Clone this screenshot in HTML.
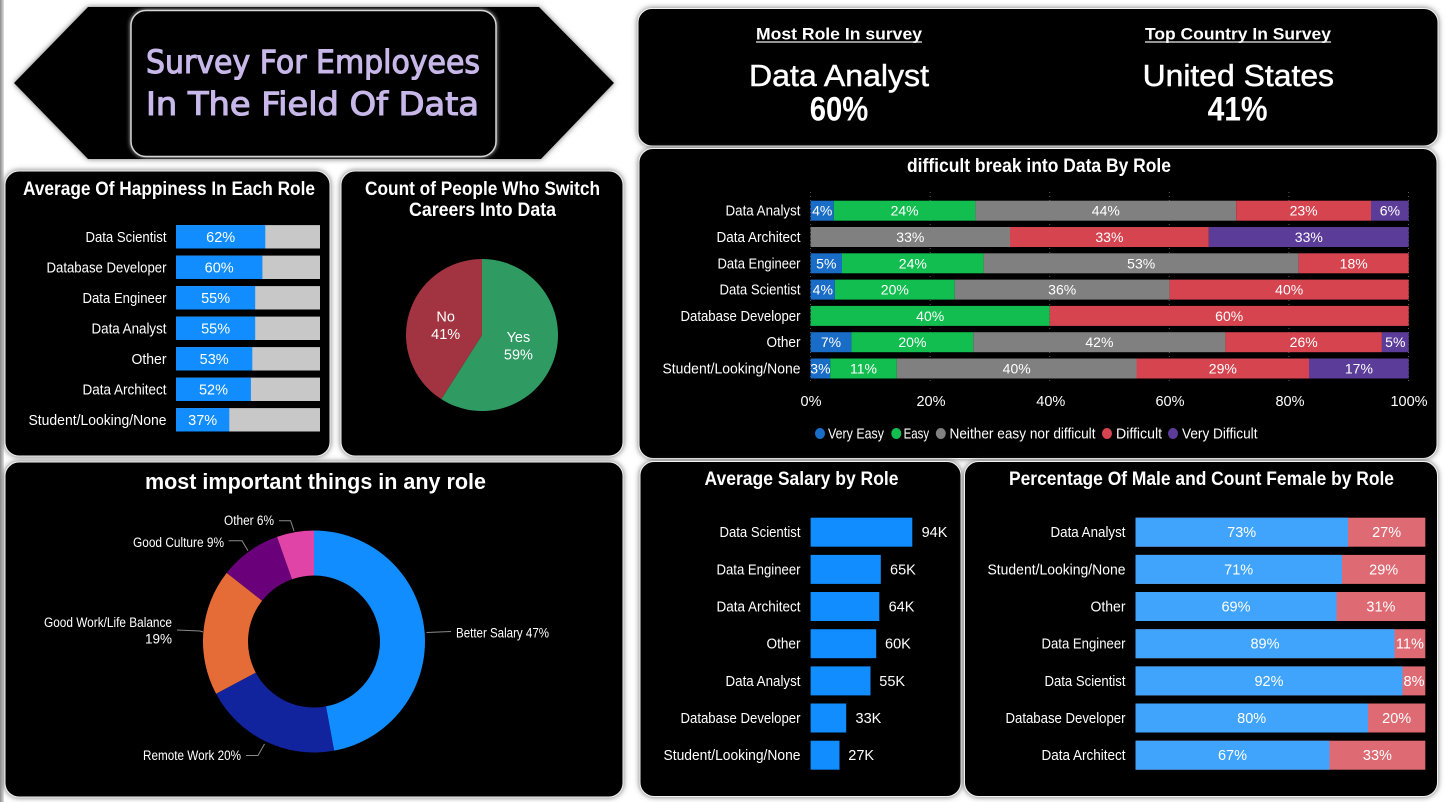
<!DOCTYPE html>
<html>
<head>
<meta charset="utf-8">
<style>
html,body{margin:0;padding:0;background:#ffffff;}
svg{display:block;}
.t{font-family:"Liberation Sans Narrow","Liberation Sans",sans-serif;fill:#ffffff;}
.l{font-size:14.5px;}
.b{font-weight:bold;}
</style>
</head>
<body>
<svg width="1446" height="802" viewBox="0 0 1446 802" xmlns="http://www.w3.org/2000/svg">
<defs>
  <filter id="sh" x="-10%" y="-10%" width="120%" height="120%">
    <feDropShadow dx="0" dy="0" stdDeviation="3" flood-color="#5e5e5e" flood-opacity="0.9"/>
  </filter>
  <filter id="glow" x="-10%" y="-10%" width="120%" height="120%">
    <feDropShadow dx="0" dy="0" stdDeviation="2" flood-color="#bbbbbb" flood-opacity="1"/>
  </filter>
  <linearGradient id="lg" x1="0" y1="0" x2="1" y2="0">
    <stop offset="0" stop-color="#8a8a8a"/>
    <stop offset="1" stop-color="#e0e0e0"/>
  </linearGradient>
</defs>

<rect x="0" y="0" width="1446" height="802" fill="#ffffff"/>
<rect x="0" y="0" width="4" height="802" fill="url(#lg)"/>

<!-- Title hexagon -->
<polygon points="14,83 88,7 539,7 614,83 541,159 88,159" fill="#000" filter="url(#sh)"/>
<rect x="131" y="10.5" width="365" height="146" rx="15" fill="#000" stroke="#d6d6d6" stroke-width="1.5" filter="url(#glow)"/>
<text x="313" y="73" text-anchor="middle" font-family="'Comic Sans MS','DejaVu Sans',sans-serif" font-size="32" fill="#c8b8ea" stroke="#c8b8ea" stroke-width="1.1" textLength="334" lengthAdjust="spacingAndGlyphs">Survey For Employees</text>
<text x="312.5" y="115" text-anchor="middle" font-family="'Comic Sans MS','DejaVu Sans',sans-serif" font-size="32" fill="#c8b8ea" stroke="#c8b8ea" stroke-width="1.1" textLength="333" lengthAdjust="spacingAndGlyphs">In The Field Of Data</text>

<!-- Panels -->
<rect x="638" y="8.5" width="800" height="137.5" rx="14" fill="#000" stroke="#f2f2f2" stroke-width="1" filter="url(#sh)"/>
<rect x="639" y="148.5" width="798" height="310" rx="14" fill="#000" stroke="#f2f2f2" stroke-width="1" filter="url(#sh)"/>
<rect x="5" y="171" width="325" height="285" rx="14" fill="#000" stroke="#f2f2f2" stroke-width="1" filter="url(#sh)"/>
<rect x="341" y="171" width="282" height="285" rx="14" fill="#000" stroke="#f2f2f2" stroke-width="1" filter="url(#sh)"/>
<rect x="5" y="462" width="618" height="335" rx="14" fill="#000" stroke="#f2f2f2" stroke-width="1" filter="url(#sh)"/>
<rect x="640" y="461.5" width="321" height="335" rx="14" fill="#000" stroke="#f2f2f2" stroke-width="1" filter="url(#sh)"/>
<rect x="964.5" y="461.5" width="473" height="335" rx="14" fill="#000" stroke="#f2f2f2" stroke-width="1" filter="url(#sh)"/>

<!-- Top card -->
<text class="t b" x="839" y="39.5" font-size="16.5" text-anchor="middle" fill="#eeeeee" textLength="166" lengthAdjust="spacingAndGlyphs">Most Role In survey</text>
<line x1="756" y1="42" x2="922" y2="42" stroke="#eeeeee" stroke-width="1.2"/>
<text class="t b" x="1238" y="39.5" font-size="16.5" text-anchor="middle" fill="#eeeeee" textLength="186" lengthAdjust="spacingAndGlyphs">Top Country In Survey</text>
<line x1="1145" y1="42" x2="1331" y2="42" stroke="#eeeeee" stroke-width="1.2"/>
<text class="t" x="839" y="86" font-size="31" text-anchor="middle" stroke="#fff" stroke-width="0.5" textLength="180" lengthAdjust="spacingAndGlyphs">Data Analyst</text>
<text class="t b" x="839" y="120.5" font-size="34" text-anchor="middle" textLength="58.5" lengthAdjust="spacingAndGlyphs">60%</text>
<text class="t" x="1238.3" y="86" font-size="31" text-anchor="middle" stroke="#fff" stroke-width="0.5" textLength="191.4" lengthAdjust="spacingAndGlyphs">United States</text>
<text class="t b" x="1237.6" y="120.5" font-size="34" text-anchor="middle" textLength="60" lengthAdjust="spacingAndGlyphs">41%</text>

<!-- Happiness panel -->
<text class="t b" x="169" y="195" font-size="19" text-anchor="middle" textLength="292" lengthAdjust="spacingAndGlyphs">Average Of Happiness In Each Role</text>
<g>
  <rect x="176" y="225.1" width="144" height="23.4" fill="#c8c8c8"/><rect x="176" y="225.1" width="89.3" height="23.4" fill="#118dff"/>
  <rect x="176" y="255.6" width="144" height="23.4" fill="#c8c8c8"/><rect x="176" y="255.6" width="86.4" height="23.4" fill="#118dff"/>
  <rect x="176" y="286.1" width="144" height="23.4" fill="#c8c8c8"/><rect x="176" y="286.1" width="79.2" height="23.4" fill="#118dff"/>
  <rect x="176" y="316.6" width="144" height="23.4" fill="#c8c8c8"/><rect x="176" y="316.6" width="79.2" height="23.4" fill="#118dff"/>
  <rect x="176" y="347.1" width="144" height="23.4" fill="#c8c8c8"/><rect x="176" y="347.1" width="76.3" height="23.4" fill="#118dff"/>
  <rect x="176" y="377.6" width="144" height="23.4" fill="#c8c8c8"/><rect x="176" y="377.6" width="74.9" height="23.4" fill="#118dff"/>
  <rect x="176" y="408.1" width="144" height="23.4" fill="#c8c8c8"/><rect x="176" y="408.1" width="53.3" height="23.4" fill="#118dff"/>
</g>
<g class="t l" text-anchor="end">
  <text x="166.5" y="241.8" textLength="81" lengthAdjust="spacingAndGlyphs">Data Scientist</text>
  <text x="166.5" y="272.3" textLength="120" lengthAdjust="spacingAndGlyphs">Database Developer</text>
  <text x="166.5" y="302.8" textLength="84" lengthAdjust="spacingAndGlyphs">Data Engineer</text>
  <text x="166.5" y="333.3" textLength="75" lengthAdjust="spacingAndGlyphs">Data Analyst</text>
  <text x="166.5" y="363.8" textLength="35" lengthAdjust="spacingAndGlyphs">Other</text>
  <text x="166.5" y="394.3" textLength="84" lengthAdjust="spacingAndGlyphs">Data Architect</text>
  <text x="166.5" y="424.8" textLength="138" lengthAdjust="spacingAndGlyphs">Student/Looking/None</text>
</g>
<g class="t l" text-anchor="middle">
  <text x="220.7" y="241.8">62%</text>
  <text x="219.2" y="272.3">60%</text>
  <text x="215.6" y="302.8">55%</text>
  <text x="215.6" y="333.3">55%</text>
  <text x="214.2" y="363.8">53%</text>
  <text x="213.5" y="394.3">52%</text>
  <text x="202.7" y="424.8">37%</text>
</g>

<!-- Pie panel -->
<text class="t b" x="482.5" y="195" font-size="19" text-anchor="middle" textLength="235" lengthAdjust="spacingAndGlyphs">Count of People Who Switch</text>
<text class="t b" x="482.5" y="216" font-size="19" text-anchor="middle" textLength="147" lengthAdjust="spacingAndGlyphs">Careers Into Data</text>
<path d="M482,335 L482,259 A76,76 0 1 1 441.28,399.17 Z" fill="#2f9a62"/>
<path d="M482,335 L441.28,399.17 A76,76 0 0 1 482,259 Z" fill="#a13440"/>
<g class="t l" text-anchor="middle">
  <text x="445.7" y="321.5">No</text>
  <text x="445.7" y="339">41%</text>
  <text x="518.4" y="342">Yes</text>
  <text x="518.4" y="359.5">59%</text>
</g>

<!-- Difficulty panel -->
<text class="t b" x="1039" y="172" font-size="19" text-anchor="middle" textLength="264" lengthAdjust="spacingAndGlyphs">difficult break into Data By Role</text>
<g stroke="#5a5a5a" stroke-width="1" stroke-dasharray="1,3">
  <line x1="810.6" y1="192" x2="810.6" y2="384"/>
  <line x1="930.2" y1="192" x2="930.2" y2="384"/>
  <line x1="1049.7" y1="192" x2="1049.7" y2="384"/>
  <line x1="1169.3" y1="192" x2="1169.3" y2="384"/>
  <line x1="1288.9" y1="192" x2="1288.9" y2="384"/>
  <line x1="1408.5" y1="192" x2="1408.5" y2="384"/>
</g>
<g>
  <rect x="810.6" y="200.7" width="23.2" height="20" fill="#1a6dc6"/>
  <rect x="833.8" y="200.7" width="141.6" height="20" fill="#12be50"/>
  <rect x="975.4" y="200.7" width="260.8" height="20" fill="#808080"/>
  <rect x="1236.2" y="200.7" width="134.8" height="20" fill="#d6444f"/>
  <rect x="1371" y="200.7" width="37.7" height="20" fill="#5b3c98"/>

  <rect x="810.6" y="227" width="199.4" height="20" fill="#808080"/>
  <rect x="1010" y="227" width="198.8" height="20" fill="#d6444f"/>
  <rect x="1208.8" y="227" width="199.9" height="20" fill="#5b3c98"/>

  <rect x="810.6" y="253.3" width="31.4" height="20" fill="#1a6dc6"/>
  <rect x="842" y="253.3" width="141.6" height="20" fill="#12be50"/>
  <rect x="983.6" y="253.3" width="315.1" height="20" fill="#808080"/>
  <rect x="1298.7" y="253.3" width="110" height="20" fill="#d6444f"/>

  <rect x="810.6" y="279.6" width="24.3" height="20" fill="#1a6dc6"/>
  <rect x="834.9" y="279.6" width="119.8" height="20" fill="#12be50"/>
  <rect x="954.7" y="279.6" width="214.9" height="20" fill="#808080"/>
  <rect x="1169.6" y="279.6" width="239.1" height="20" fill="#d6444f"/>

  <rect x="810.6" y="305.9" width="239.1" height="20" fill="#12be50"/>
  <rect x="1049.7" y="305.9" width="359" height="20" fill="#d6444f"/>

  <rect x="810.6" y="332.2" width="40.8" height="20" fill="#1a6dc6"/>
  <rect x="851.4" y="332.2" width="121.9" height="20" fill="#12be50"/>
  <rect x="973.3" y="332.2" width="252.1" height="20" fill="#808080"/>
  <rect x="1225.4" y="332.2" width="156.5" height="20" fill="#d6444f"/>
  <rect x="1381.9" y="332.2" width="26.8" height="20" fill="#5b3c98"/>

  <rect x="810.6" y="358.5" width="19.6" height="20" fill="#1a6dc6"/>
  <rect x="830.2" y="358.5" width="66.6" height="20" fill="#12be50"/>
  <rect x="896.8" y="358.5" width="239.7" height="20" fill="#808080"/>
  <rect x="1136.5" y="358.5" width="172.5" height="20" fill="#d6444f"/>
  <rect x="1309" y="358.5" width="99.7" height="20" fill="#5b3c98"/>
</g>
<g class="t" font-size="14" text-anchor="middle">
  <text x="822.2" y="215.7">4%</text>
  <text x="904.6" y="215.7">24%</text>
  <text x="1105.8" y="215.7">44%</text>
  <text x="1303.6" y="215.7">23%</text>
  <text x="1389.9" y="215.7">6%</text>

  <text x="910.3" y="242">33%</text>
  <text x="1109.4" y="242">33%</text>
  <text x="1308.8" y="242">33%</text>

  <text x="826.3" y="268.3">5%</text>
  <text x="912.8" y="268.3">24%</text>
  <text x="1141.2" y="268.3">53%</text>
  <text x="1353.7" y="268.3">18%</text>

  <text x="822.8" y="294.6">4%</text>
  <text x="894.8" y="294.6">20%</text>
  <text x="1062.2" y="294.6">36%</text>
  <text x="1289.2" y="294.6">40%</text>

  <text x="930.2" y="320.9">40%</text>
  <text x="1229.2" y="320.9">60%</text>

  <text x="831" y="347.2">7%</text>
  <text x="912.4" y="347.2">20%</text>
  <text x="1099.4" y="347.2">42%</text>
  <text x="1303.7" y="347.2">26%</text>
  <text x="1395.3" y="347.2">5%</text>

  <text x="820.4" y="373.5">3%</text>
  <text x="863.5" y="373.5">11%</text>
  <text x="1016.7" y="373.5">40%</text>
  <text x="1222.8" y="373.5">29%</text>
  <text x="1358.9" y="373.5">17%</text>
</g>
<g class="t l" text-anchor="end">
  <text x="800.5" y="215.7" textLength="75" lengthAdjust="spacingAndGlyphs">Data Analyst</text>
  <text x="800.5" y="242" textLength="84" lengthAdjust="spacingAndGlyphs">Data Architect</text>
  <text x="800.5" y="268.3" textLength="83" lengthAdjust="spacingAndGlyphs">Data Engineer</text>
  <text x="800.5" y="294.6" textLength="81" lengthAdjust="spacingAndGlyphs">Data Scientist</text>
  <text x="800.5" y="320.9" textLength="120" lengthAdjust="spacingAndGlyphs">Database Developer</text>
  <text x="800.5" y="347.2" textLength="34" lengthAdjust="spacingAndGlyphs">Other</text>
  <text x="800.5" y="373.5" textLength="138" lengthAdjust="spacingAndGlyphs">Student/Looking/None</text>
</g>
<g class="t l" text-anchor="middle">
  <text x="811" y="406">0%</text>
  <text x="931" y="406">20%</text>
  <text x="1050.8" y="406">40%</text>
  <text x="1170" y="406">60%</text>
  <text x="1290" y="406">80%</text>
  <text x="1409" y="406">100%</text>
</g>
<g>
  <ellipse cx="820" cy="433.5" rx="5" ry="5.5" fill="#1a6dc6"/>
  <ellipse cx="896.3" cy="433.5" rx="5" ry="5.5" fill="#12be50"/>
  <ellipse cx="940.8" cy="433.5" rx="5" ry="5.5" fill="#808080"/>
  <ellipse cx="1107" cy="433.5" rx="5" ry="5.5" fill="#d6444f"/>
  <ellipse cx="1173" cy="433.5" rx="5" ry="5.5" fill="#5b3c98"/>
</g>
<g class="t l">
  <text x="828" y="438.5" textLength="56" lengthAdjust="spacingAndGlyphs">Very Easy</text>
  <text x="903.6" y="438.5" textLength="25.5" lengthAdjust="spacingAndGlyphs">Easy</text>
  <text x="949.5" y="438.5" textLength="146" lengthAdjust="spacingAndGlyphs">Neither easy nor difficult</text>
  <text x="1116" y="438.5" textLength="46" lengthAdjust="spacingAndGlyphs">Difficult</text>
  <text x="1182" y="438.5" textLength="75.5" lengthAdjust="spacingAndGlyphs">Very Difficult</text>
</g>

<!-- Donut panel -->
<text class="t b" x="315.5" y="489" font-size="22" text-anchor="middle" textLength="341" lengthAdjust="spacingAndGlyphs">most important things in any role</text>
<path d="M314,530.5 A111,111 0 0 1 334.11,750.66 L325.96,706.4 A66,66 0 0 0 314,575.5 Z" fill="#118dff"/>
<path d="M334.11,750.66 A111,111 0 0 1 216.06,693.75 L255.77,672.57 A66,66 0 0 0 325.96,706.4 Z" fill="#12239e"/>
<path d="M216.06,693.75 A111,111 0 0 1 226.72,572.9 L262.1,600.71 A66,66 0 0 0 255.77,672.57 Z" fill="#e66c37"/>
<path d="M226.72,572.9 A111,111 0 0 1 277.06,536.83 L292.04,579.26 A66,66 0 0 0 262.1,600.71 Z" fill="#6b007b"/>
<path d="M277.06,536.83 A111,111 0 0 1 314,530.5 L314,575.5 A66,66 0 0 0 292.04,579.26 Z" fill="#e044a7"/>
<g fill="none" stroke="#8a8a8a" stroke-width="1">
  <polyline points="426.5,632.5 451,631.5"/>
  <polyline points="246,755.5 258,755.5 264.5,744"/>
  <polyline points="177,630 200,631 203,632"/>
  <polyline points="228.6,540.7 242,540.7 248,550.7"/>
  <polyline points="279,520.7 290.6,520.7 294,531"/>
</g>
<g class="t" font-size="13.5">
  <text x="456" y="637.5" textLength="93" lengthAdjust="spacingAndGlyphs">Better Salary 47%</text>
  <text x="241" y="760" text-anchor="end" textLength="98" lengthAdjust="spacingAndGlyphs">Remote Work 20%</text>
  <text x="172" y="627" text-anchor="end" textLength="128" lengthAdjust="spacingAndGlyphs">Good Work/Life Balance</text>
  <text x="172" y="643.5" text-anchor="end">19%</text>
  <text x="224" y="547" text-anchor="end" textLength="91" lengthAdjust="spacingAndGlyphs">Good Culture 9%</text>
  <text x="274" y="525" text-anchor="end" textLength="50" lengthAdjust="spacingAndGlyphs">Other 6%</text>
</g>

<!-- Salary panel -->
<text class="t b" x="801.5" y="485" font-size="19" text-anchor="middle" textLength="194" lengthAdjust="spacingAndGlyphs">Average Salary by Role</text>
<g fill="#118dff">
  <rect x="810.6" y="517.7" width="101.7" height="29"/>
  <rect x="810.6" y="554.9" width="70.2" height="29"/>
  <rect x="810.6" y="592" width="68.7" height="29"/>
  <rect x="810.6" y="629.2" width="65.6" height="29"/>
  <rect x="810.6" y="666.4" width="59.9" height="29"/>
  <rect x="810.6" y="703.5" width="35.6" height="29"/>
  <rect x="810.6" y="740.7" width="28.9" height="29"/>
</g>
<g class="t l" text-anchor="end">
  <text x="800.5" y="537.2" textLength="81" lengthAdjust="spacingAndGlyphs">Data Scientist</text>
  <text x="800.5" y="574.4" textLength="84" lengthAdjust="spacingAndGlyphs">Data Engineer</text>
  <text x="800.5" y="611.5" textLength="84" lengthAdjust="spacingAndGlyphs">Data Architect</text>
  <text x="800.5" y="648.7" textLength="34" lengthAdjust="spacingAndGlyphs">Other</text>
  <text x="800.5" y="685.9" textLength="75" lengthAdjust="spacingAndGlyphs">Data Analyst</text>
  <text x="800.5" y="723" textLength="120" lengthAdjust="spacingAndGlyphs">Database Developer</text>
  <text x="800.5" y="760.2" textLength="137" lengthAdjust="spacingAndGlyphs">Student/Looking/None</text>
</g>
<g class="t l">
  <text x="921.6" y="537.2">94K</text>
  <text x="890" y="574.4">65K</text>
  <text x="888.6" y="611.5">64K</text>
  <text x="885" y="648.7">60K</text>
  <text x="879.3" y="685.9">55K</text>
  <text x="855.5" y="723">33K</text>
  <text x="848.3" y="760.2">27K</text>
</g>

<!-- Gender panel -->
<text class="t b" x="1201.5" y="485" font-size="19" text-anchor="middle" textLength="385" lengthAdjust="spacingAndGlyphs">Percentage Of Male and Count Female by Role</text>
<g>
  <rect x="1135.5" y="517.7" width="289.8" height="29" fill="#de6b73"/><rect x="1135.5" y="517.7" width="212.5" height="29" fill="#41a4fc"/>
  <rect x="1135.5" y="554.9" width="289.8" height="29" fill="#de6b73"/><rect x="1135.5" y="554.9" width="206.5" height="29" fill="#41a4fc"/>
  <rect x="1135.5" y="592" width="289.8" height="29" fill="#de6b73"/><rect x="1135.5" y="592" width="201" height="29" fill="#41a4fc"/>
  <rect x="1135.5" y="629.2" width="289.8" height="29" fill="#de6b73"/><rect x="1135.5" y="629.2" width="259" height="29" fill="#41a4fc"/>
  <rect x="1135.5" y="666.4" width="289.8" height="29" fill="#de6b73"/><rect x="1135.5" y="666.4" width="267" height="29" fill="#41a4fc"/>
  <rect x="1135.5" y="703.5" width="289.8" height="29" fill="#de6b73"/><rect x="1135.5" y="703.5" width="232.5" height="29" fill="#41a4fc"/>
  <rect x="1135.5" y="740.7" width="289.8" height="29" fill="#de6b73"/><rect x="1135.5" y="740.7" width="194" height="29" fill="#41a4fc"/>
</g>
<g class="t l" text-anchor="end">
  <text x="1125.5" y="537.2" textLength="75" lengthAdjust="spacingAndGlyphs">Data Analyst</text>
  <text x="1125.5" y="574.4" textLength="138" lengthAdjust="spacingAndGlyphs">Student/Looking/None</text>
  <text x="1125.5" y="611.5" textLength="35" lengthAdjust="spacingAndGlyphs">Other</text>
  <text x="1125.5" y="648.7" textLength="84" lengthAdjust="spacingAndGlyphs">Data Engineer</text>
  <text x="1125.5" y="685.9" textLength="81" lengthAdjust="spacingAndGlyphs">Data Scientist</text>
  <text x="1125.5" y="723" textLength="120" lengthAdjust="spacingAndGlyphs">Database Developer</text>
  <text x="1125.5" y="760.2" textLength="84" lengthAdjust="spacingAndGlyphs">Data Architect</text>
</g>
<g class="t l" text-anchor="middle">
  <text x="1241.7" y="537.2">73%</text><text x="1386.6" y="537.2">27%</text>
  <text x="1238.7" y="574.4">71%</text><text x="1383.7" y="574.4">29%</text>
  <text x="1236" y="611.5">69%</text><text x="1380.9" y="611.5">31%</text>
  <text x="1265" y="648.7">89%</text><text x="1409.9" y="648.7">11%</text>
  <text x="1269" y="685.9">92%</text><text x="1414" y="685.9">8%</text>
  <text x="1251.7" y="723">80%</text><text x="1396.7" y="723">20%</text>
  <text x="1232.5" y="760.2">67%</text><text x="1377.4" y="760.2">33%</text>
</g>
</svg>
</body>
</html>
